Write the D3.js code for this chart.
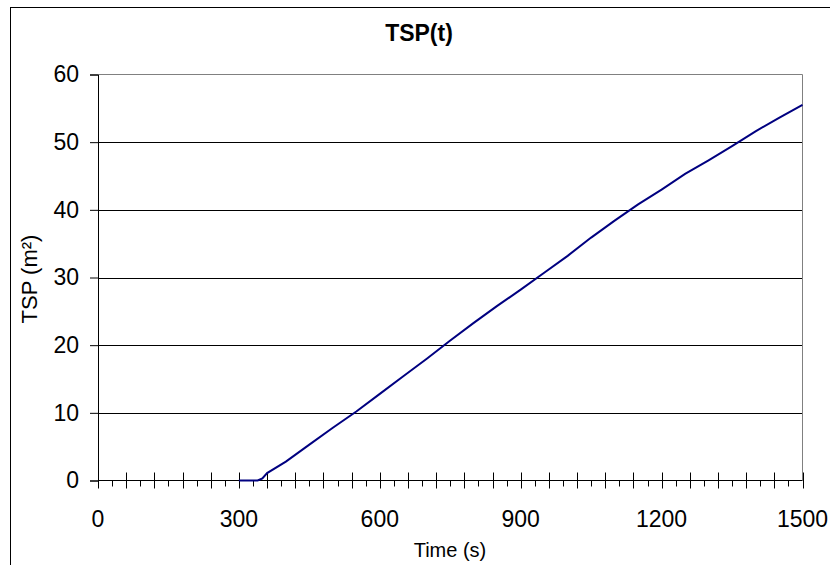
<!DOCTYPE html>
<html>
<head>
<meta charset="utf-8">
<script src="https://cdn.jsdelivr.net/npm/d3@7"></script>
<style>
  body { margin: 0; background: #fff; }
  text { font-family: Arial, "Liberation Sans", sans-serif; fill: #000; }
</style>
</head>
<body>
<svg id="tsp" width="830" height="565"></svg>
<script>
// values
var times = [300, 340, 350, 360, 400, 450, 500, 550, 600, 650, 700, 750, 800, 850, 900,
             950, 1000, 1050, 1100, 1150, 1200, 1250, 1300, 1350, 1400, 1450, 1500];
var tsp = [0, 0, 0.3, 1.1, 2.8, 5.3, 7.8, 10.2, 12.8, 15.4, 18.0, 20.7, 23.3, 25.8, 28.2,
           30.7, 33.2, 35.9, 38.4, 40.8, 43.0, 45.3, 47.3, 49.4, 51.6, 53.6, 55.5];
var xTicks = [0, 300, 600, 900, 1200, 1500];
var yTicks = [0, 10, 20, 30, 40, 50, 60];

(function tspChart() {
    var svg = d3.select("#tsp");
    var left = 98, right = 802.5, top = 74.5, bottom = 480.5;

    var x = d3.scaleLinear().domain([0, 1500]).range([left, right]),
        y = d3.scaleLinear().domain([0, 60]).range([bottom, top]);

    // outer chart frame
    svg.append("rect")
        .attr("x", 10.5).attr("y", 7.5)
        .attr("width", 830).attr("height", 570)
        .attr("fill", "none").attr("stroke", "#000");

    svg.append("text")
        .attr("x", 419).attr("y", 41)
        .attr("text-anchor", "middle")
        .style("font-size", "23px")
        .attr("font-weight", "bold")
        .text("TSP(t)");

    // gridlines
    svg.append("g").selectAll("line")
        .data(yTicks.filter(function (d) { return d > 0 && d < 60; }))
        .enter().append("line")
        .attr("x1", left).attr("x2", right)
        .attr("y1", function (d) { return Math.round(y(d)) + 0.5; })
        .attr("y2", function (d) { return Math.round(y(d)) + 0.5; })
        .attr("stroke", "#000");

    // plot border top/right
    svg.append("path")
        .attr("d", "M" + left + "," + top + "H" + right + "V" + bottom)
        .attr("fill", "none").attr("stroke", "#808080");

    // y axis
    var gy = svg.append("g")
        .attr("transform", "translate(" + left + ",0)")
        .call(d3.axisLeft(y).tickValues(yTicks).tickSize(8).tickPadding(11));
    gy.selectAll("text").style("font-size", "23px").attr("fill", "#000");
    gy.selectAll("line, path").attr("stroke", "#000");

    // x axis: minor ticks every 30 below, major every 60 crossing
    var minor = d3.range(0, 1501, 30);
    svg.append("g").selectAll("line")
        .data(minor)
        .enter().append("line")
        .attr("x1", function (d) { return Math.round(x(d)) + 0.5; })
        .attr("x2", function (d) { return Math.round(x(d)) + 0.5; })
        .attr("y1", function (d) { return d % 60 === 0 ? bottom - 8 : bottom; })
        .attr("y2", function (d) { return d % 60 === 0 ? bottom + 8 : bottom + 6; })
        .attr("stroke", "#000");

    svg.append("line")
        .attr("x1", left).attr("x2", right)
        .attr("y1", bottom).attr("y2", bottom)
        .attr("stroke", "#000");

    svg.append("g").selectAll("text")
        .data(xTicks)
        .enter().append("text")
        .attr("x", function (d) { return x(d); })
        .attr("y", 527)
        .attr("text-anchor", "middle")
        .style("font-size", "23px")
        .text(function (d) { return d; });

    svg.append("text")
        .attr("x", 450).attr("y", 557)
        .attr("text-anchor", "middle")
        .style("font-size", "20px")
        .text("Time (s)");

    svg.append("text")
        .attr("transform", "translate(37,279) rotate(-90)")
        .attr("text-anchor", "middle")
        .style("font-size", "22px")
        .text("TSP (m²)");

    var line = d3.line()
        .x(function (d, i) { return x(times[i]); })
        .y(function (d) { return y(d); });

    svg.append("path")
        .datum(tsp)
        .attr("d", line)
        .attr("fill", "none")
        .attr("stroke", "#000080")
        .attr("stroke-width", 2);
}());
</script>
</body>
</html>
